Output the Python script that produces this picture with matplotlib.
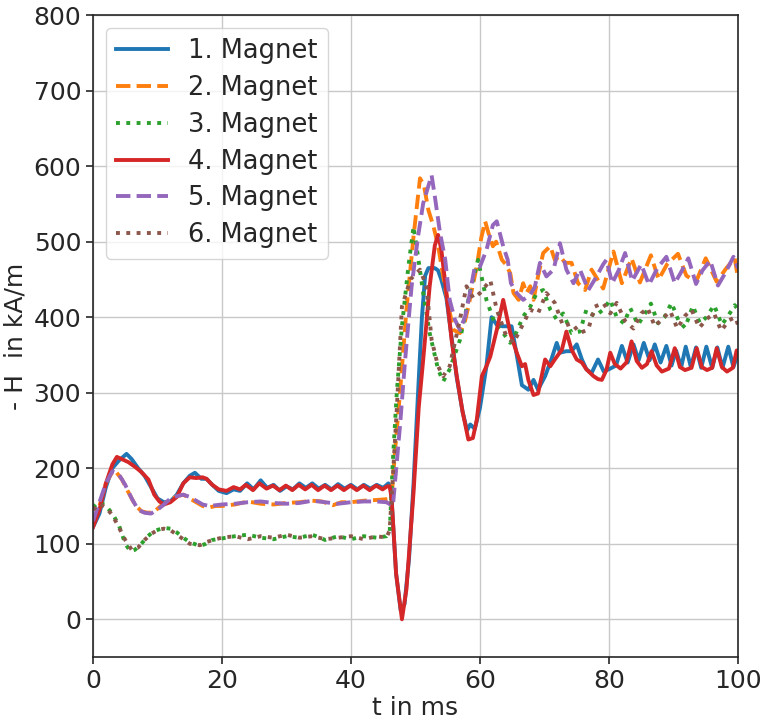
import matplotlib
matplotlib.use("Agg")
import matplotlib.pyplot as plt

# Field strength -H (kA/m) of six magnets over time t (ms)
t_m1 = [0, 1, 2, 3, 4, 5.2, 6, 7, 8, 9, 10, 11, 12, 13, 14, 15, 15.8, 16.8, 17.6, 18.5, 19.5,
        20.7, 21.8, 22.8, 23.9, 24.9, 26.0, 27.0, 28.0, 29.0, 30.0, 31.0, 32.0, 33.0, 34.0, 35.0,
        36.0, 37.0, 38.0, 39.0, 40.0, 41.0, 42.0, 43.0, 44.0, 45.0, 45.8, 46.2, 47.0, 47.7, 48.3,
        49.0, 49.7, 50.4, 51.0, 51.5, 52.0, 53.0, 53.5, 54.0, 54.8, 55.5, 56.4, 57.3, 58.0, 58.5,
        59.2, 60.0, 61.0, 61.8, 62.6, 63.5, 64.9, 65.7, 66.5, 67.5, 68.3, 69.0, 70.1, 71.1, 71.9,
        72.4, 73.4, 74.2, 75.0, 75.8, 76.5, 77.3, 78.3, 79.2, 80.2, 81.1, 82.0, 82.9, 83.8, 84.6,
        85.4, 86.3, 87.1, 88.0, 88.9, 89.7, 90.4, 91.2, 91.9, 92.7, 93.5, 94.3, 95.1, 96.0, 96.8,
        97.6, 98.5, 99.3, 100.0]
h_m1 = [122, 140, 175, 200, 210, 219, 212, 200, 190, 175, 160, 155, 156, 165, 180, 190, 194, 186, 186, 178, 170,
        167, 172, 170, 180, 172, 184, 174, 178, 170, 176, 172, 180, 174, 180, 173,
        178, 172, 179, 173, 178, 172, 178, 173, 178, 174, 180, 172, 60, 12, 20,
        80, 180, 300, 400, 455, 465, 465, 462, 450, 425, 380, 320, 275, 250, 258,
        252, 280, 335, 400, 390, 388, 388, 350, 310, 304, 317, 304, 322, 345, 366,
        353, 355, 355, 364, 344, 331, 326, 344, 328, 332, 336, 362, 340, 364, 343,
        366, 343, 364, 340, 362, 336, 356, 334, 361, 334, 360, 333, 361, 333, 360,
        333, 361, 334, 352]

t_m2 = [0, 1, 2, 3, 3.5, 4.5, 5.5, 6.5, 7.5, 8.5, 9.4, 10.5, 12, 13, 14, 15, 16, 17, 18, 19, 20,
        22, 24, 26, 28, 30, 32, 34, 35.5, 37.2, 38.5, 40, 42, 44, 45.5, 46.3, 46.8, 47.6, 48.6,
        49.7, 50.7, 51.3, 52.0, 52.8, 53.5, 54.3, 55.1, 55.9, 56.9, 57.6, 58.2, 59.5, 60.2, 60.8,
        61.3, 62.0, 62.5, 63.4, 64.0, 64.7, 65.2, 66.0, 66.7, 67.2, 67.8, 68.3, 69.0, 69.8, 70.9,
        71.6, 72.4, 73.2, 74.2, 75.2, 76.3, 77.3, 78.6, 79.1, 80.7, 82.0, 83.5, 84.8, 86.5, 87.7,
        89.0, 90.7, 92.0, 93.5, 95.0, 96.7, 98.2, 99.5, 100]
h_m2 = [125, 150, 180, 195, 196, 185, 168, 152, 143, 141, 142, 150, 158, 163, 165, 160, 155, 150, 148, 150, 150,
        152, 156, 153, 152, 154, 155, 157, 156, 151, 155, 155, 157, 158, 159, 160, 220, 300, 410,
        507, 584, 575, 542, 520, 495, 454, 415, 383, 379, 392, 414, 467, 505, 527,
        512, 494, 500, 476, 470, 458, 432, 423, 445, 432, 441, 423, 454, 485, 494,
        476, 481, 472, 472, 445, 436, 463, 445, 438, 487, 445, 478, 446, 482, 450,
        470, 484, 455, 447, 478, 447, 465, 478, 452]

t_m3 = [0, 1, 2, 3, 4, 5, 5.8, 6.5, 7.5, 8.5, 9.5, 11, 12, 13, 14, 15, 16.6, 17.5, 18.5, 20,
        22, 24, 26, 28, 30, 32, 34, 36, 38, 40, 42, 44, 45.5, 46, 46.5, 47.1, 47.9, 48.9, 49.7,
        50.4, 51.2, 52.2, 53.5, 54.3, 55.3, 56.9, 58.4, 59.7, 61.0, 62.3, 63.6, 64.7, 65.7, 66.7,
        67.8, 68.8, 69.8, 70.9, 71.9, 72.9, 74.2, 75.5, 76.5, 77.8, 79.1, 80.2, 81.2, 82.3, 83.3,
        84.5, 85.6, 86.5, 87.6, 88.6, 89.7, 90.8, 91.8, 93.0, 94.1, 95.1, 96.3, 97.5, 98.5, 99.5, 100]
h_m3 = [148, 156, 150, 140, 125, 100, 90, 92, 100, 110, 117, 121, 120, 115, 108, 102, 97, 100, 105, 107,
        110, 112, 108, 106, 110, 108, 112, 105, 110, 106, 110, 108, 110, 115, 211, 300, 388, 467, 520,
        480, 432, 379, 331, 315, 331, 370, 432, 476, 423, 392, 379, 366, 381, 401,
        414, 432, 436, 410, 397, 405, 379, 381, 410, 401, 410, 423, 400, 392, 412,
        390, 405, 418, 392, 400, 419, 395, 386, 415, 392, 400, 416, 390, 402, 416, 410]

t_m4 = [0, 1, 2, 3, 3.7, 4.5, 5.5, 6.5, 7.5, 8.6, 9.5, 10.3, 11, 12, 13, 14, 15, 16, 17, 17.6, 18.5, 19.5,
        20.7, 21.8, 22.8, 23.7, 24.8, 25.8, 26.9, 27.9, 28.9, 29.9, 30.9, 31.9, 32.9, 33.9, 34.9,
        35.9, 36.9, 37.9, 38.9, 39.9, 40.9, 41.9, 42.9, 43.9, 44.9, 45.6, 46.0, 46.3, 47.0, 47.9,
        48.6, 49.7, 50.5, 51.2, 52.2, 53.0, 53.5, 54.0, 54.8, 55.6, 56.4, 57.3, 58.2, 58.9, 59.5,
        60.3, 61.0, 61.6, 62.6, 63.6, 64.7, 65.7, 66.5, 67.0, 67.5, 68.3, 69.0, 70.1, 70.9, 71.6,
        72.7, 73.4, 74.2, 75.0, 75.8, 76.5, 77.6, 78.3, 78.9, 79.6, 80.2, 80.9, 81.8, 82.7, 83.5,
        84.3, 85.1, 85.9, 86.6, 87.4, 88.2, 89.3, 90.2, 91.0, 91.8, 92.8, 93.6, 94.4, 95.2, 96.0,
        96.7, 97.5, 98.3, 99.2, 99.8, 100]
h_m4 = [122, 145, 180, 205, 215, 212, 208, 202, 195, 185, 165, 156, 152, 155, 162, 180, 188, 187, 188, 186, 178, 172,
        170, 175, 172, 178, 171, 180, 173, 177, 171, 177, 171, 178, 172, 178, 171,
        177, 171, 177, 171, 177, 171, 177, 171, 177, 172, 176, 176, 160, 60, 0,
        40, 168, 280, 344, 441, 495, 509, 490, 432, 370, 322, 275, 238, 240, 264,
        322, 335, 348, 383, 423, 379, 353, 335, 338, 317, 297, 299, 344, 335, 344,
        357, 381, 357, 344, 340, 331, 322, 318, 317, 330, 353, 338, 332, 340, 368,
        342, 333, 338, 355, 336, 328, 332, 359, 334, 330, 333, 359, 334, 330, 333,
        359, 334, 328, 333, 356, 350]

t_m5 = [0, 1, 2, 3, 4, 5, 6, 7, 8, 9, 10, 11, 12, 13, 14, 15, 16, 17, 18, 20, 22, 24, 26, 28, 30,
        32, 34, 36, 38, 40, 42, 44, 45.5, 46.5, 47.6, 48.4, 49.4, 50.4, 51.2, 52.5, 53.0, 53.8,
        54.6, 55.3, 56.1, 56.9, 57.7, 58.4, 59.2, 60.0, 61.0, 62.0, 62.6, 63.6, 64.3, 64.8, 65.7,
        66.7, 67.8, 68.5, 69.3, 70.3, 71.4, 72.4, 73.4, 74.5, 75.5, 76.8, 77.8, 79.1, 79.6, 80.5,
        81.5, 82.5, 83.6, 85.0, 86.2, 87.5, 88.9, 90.2, 91.2, 92.3, 93.5, 94.5, 95.7, 96.9, 98.0,
        99.3, 100]
h_m5 = [130, 155, 180, 196, 192, 178, 160, 145, 141, 140, 145, 152, 160, 163, 165, 162, 157, 152, 150, 152, 153, 155, 156, 154, 153,
        154, 157, 155, 153, 155, 156, 156, 155, 150, 256, 344, 441, 507, 551, 588, 560, 512,
        477, 423, 397, 383, 401, 430, 467, 467, 489, 522, 527, 494, 476, 445, 432,
        423, 430, 440, 472, 454, 463, 498, 463, 445, 463, 436, 450, 470, 476, 445,
        462, 485, 448, 470, 443, 465, 480, 445, 460, 478, 444, 462, 475, 442, 458,
        480, 465]

t_m6 = [0, 1, 2, 3, 4, 5, 6, 7, 8, 9, 10, 11, 12, 13, 14, 15, 16.6, 17.5, 19, 20,
        22, 24, 26, 28, 30, 32, 34, 36, 38, 40, 42, 44, 45.5, 46, 46.5, 47.1, 47.9, 49.2, 50.7,
        51.7, 52.5, 53.5, 54.3, 55.3, 56.9, 57.9, 59.0, 60.0, 61.6, 62.6, 63.9, 65.2, 66.5, 67.8,
        69.0, 70.3, 71.6, 72.9, 74.2, 75.5, 76.8, 77.8, 79.1, 80.2, 81.2, 82.5, 83.8, 85.0, 86.0,
        87.1, 88.3, 89.5, 90.6, 91.8, 92.8, 94.0, 95.2, 96.3, 97.4, 98.6, 99.6, 100]
h_m6 = [145, 153, 148, 138, 122, 105, 92, 95, 105, 113, 118, 120, 118, 112, 106, 100, 98, 102, 106, 108,
        110, 106, 110, 108, 112, 108, 110, 106, 108, 110, 106, 110, 108, 118, 190, 278, 414, 450, 463,
        441, 370, 335, 322, 335, 397, 441, 425, 432, 449, 410, 379, 366, 388, 410,
        405, 432, 419, 388, 392, 379, 384, 414, 419, 405, 419, 395, 385, 405, 412,
        388, 398, 408, 385, 402, 410, 386, 398, 405, 382, 396, 400, 390]

labels = ["1. Magnet", "2. Magnet", "3. Magnet", "4. Magnet", "5. Magnet", "6. Magnet"]
colors = ["#1f77b4", "#ff7f0e", "#2ca02c", "#d62728", "#9467bd", "#8c564b"]
styles = ["-", "--", ":", "-", "--", ":"]

x_ticks = [0, 20, 40, 60, 80, 100]
y_ticks = [0, 100, 200, 300, 400, 500, 600, 700, 800]

text_color = "#262626"
plt.rcParams.update({
    "font.family": ["DejaVu Sans"],
    "font.size": 18,
    "text.color": text_color,
    "axes.labelcolor": text_color,
    "xtick.color": text_color,
    "ytick.color": text_color,
    "axes.edgecolor": text_color,
})

fig = plt.figure(figsize=(7.66, 7.22), dpi=100)
ax = fig.add_axes([0.1214, 0.09, 0.842, 0.889])

series = [(t_m1, h_m1), (t_m2, h_m2), (t_m3, h_m3), (t_m4, h_m4), (t_m5, h_m5), (t_m6, h_m6)]
for (t, h), lab, col, ls in zip(series, labels, colors, styles):
    ax.plot(t, h, ls, color=col, lw=2.8, label=lab)

ax.set_xlim(0, 100)
ax.set_ylim(-50, 800)
ax.set_xticks(x_ticks)
ax.set_yticks(y_ticks)
ax.tick_params(labelsize=18, length=5, width=1.2)
ax.grid(True, color="#c8c8c8", lw=1)
ax.set_axisbelow(True)
for s in ax.spines.values():
    s.set_linewidth(1.2)

ax.set_xlabel("t in ms", fontsize=18, labelpad=2)
ax.set_ylabel("- H  in kA/m", fontsize=18, labelpad=4)
ax.legend(loc="upper left", fontsize=18.5, handlelength=2.0, borderpad=0.4,
          labelspacing=0.42)

fig.savefig("out.png", dpi=100)
